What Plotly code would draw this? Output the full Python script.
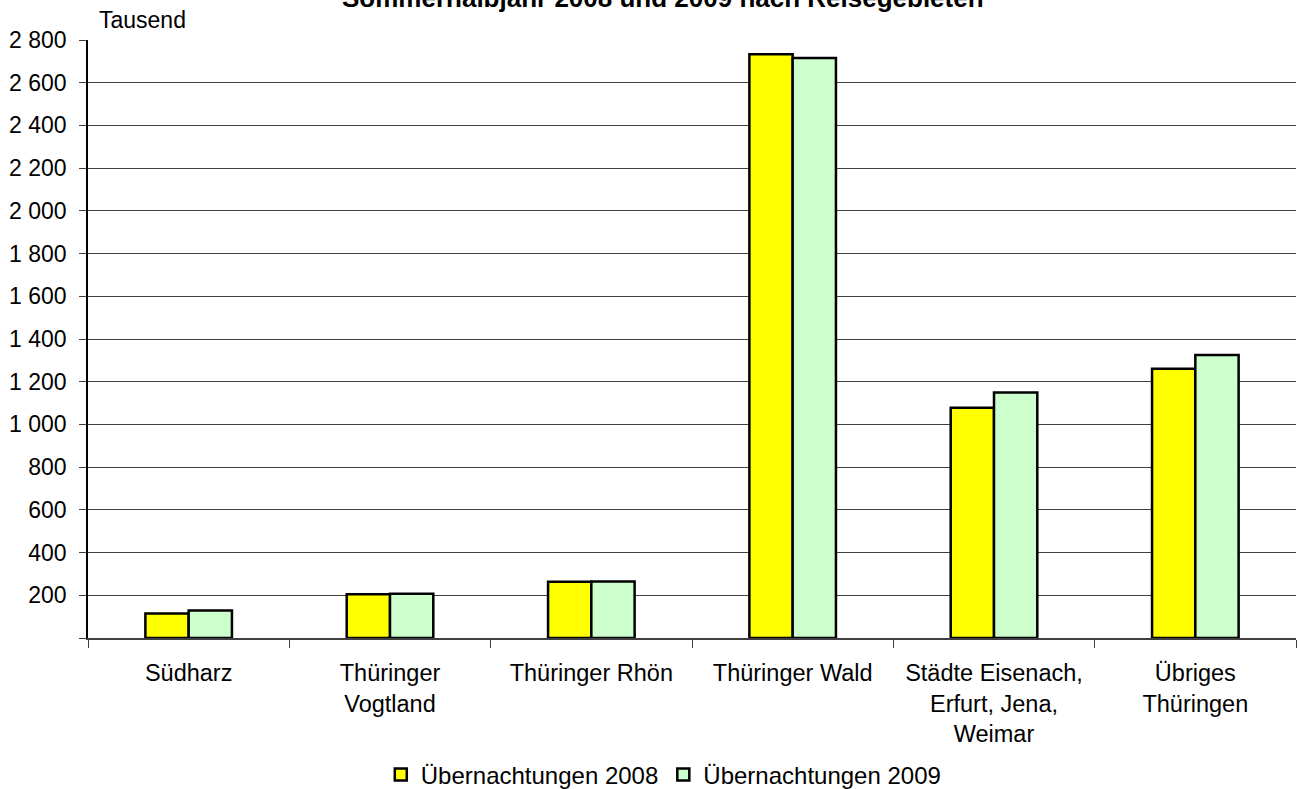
import plotly.graph_objects as go

categories = ["Südharz", "Thüringer<br>Vogtland", "Thüringer Rhön", "Thüringer Wald",
              "Städte Eisenach,<br>Erfurt, Jena,<br>Weimar", "Übriges<br>Thüringen"]
values_2008 = [115, 205, 263, 2733, 1078, 1261]
values_2009 = [129, 207, 265, 2716, 1150, 1325]
series_names = ["Übernachtungen 2008", "Übernachtungen 2009"]
tick_values = [0, 200, 400, 600, 800, 1000, 1200, 1400, 1600, 1800, 2000, 2200, 2400, 2600, 2800]
tick_labels = ["", "200", "400", "600", "800", "1 000", "1 200", "1 400", "1 600", "1 800",
               "2 000", "2 200", "2 400", "2 600", "2 800"]
title_text = "Sommerhalbjahr 2008 und 2009 nach Reisegebieten"
unit_text = "Tausend"

FONT = "Liberation Sans, Arial, sans-serif"

fig = go.Figure()
fig.add_trace(go.Bar(x=categories, y=values_2008, name=series_names[0],
                     marker=dict(color="#FFFF00", line=dict(color="#000000", width=2.5))))
fig.add_trace(go.Bar(x=categories, y=values_2009, name=series_names[1],
                     marker=dict(color="#CCFFCC", line=dict(color="#000000", width=2.5))))

fig.update_layout(
    width=1299, height=789,
    margin=dict(l=88, r=3, t=40, b=151, autoexpand=False),
    paper_bgcolor="white", plot_bgcolor="white",
    font=dict(family=FONT, size=23, color="#000000"),
    barmode="group", bargap=0.57, bargroupgap=0,
    legend=dict(orientation="h", xref="container", x=0.511, xanchor="center",
                yref="paper", y=-0.229, yanchor="middle",
                font=dict(size=24), itemwidth=30, tracegroupgap=0),
    showlegend=True,
)

fig.update_yaxes(range=[0, 2800], tickmode="array", tickvals=tick_values, ticktext=tick_labels,
                 showgrid=True, gridcolor="#404040", gridwidth=1,
                 showline=True, linecolor="#000000", linewidth=1.5,
                 ticks="outside", ticklen=7, tickcolor="#404040",
                 ticklabelstandoff=8, zeroline=False, automargin=False,
                 tickfont=dict(size=23))
fig.update_xaxes(showline=True, linecolor="#404040", linewidth=1.5,
                 ticks="outside", ticklen=8, tickcolor="#404040", tickson="boundaries",
                 tickangle=0, tickfont=dict(size=23.5), ticklabelstandoff=13, automargin=False)

# title (partly above the visible page, as in the reference)
fig.add_annotation(text="<b>" + title_text + "</b>", xref="paper", yref="paper",
                   x=0.476, y=1.042, xanchor="center", yanchor="bottom", showarrow=False,
                   font=dict(size=26, family=FONT))

fig.add_annotation(text=unit_text, xref="paper", yref="paper", x=0.0075, y=1.0,
                   xanchor="left", yanchor="bottom", showarrow=False,
                   font=dict(size=23, family=FONT), yshift=5)

fig.write_html("out.html", config={"displayModeBar": False},
               post_script="document.body.style.margin='0';document.body.style.overflow='hidden';")
